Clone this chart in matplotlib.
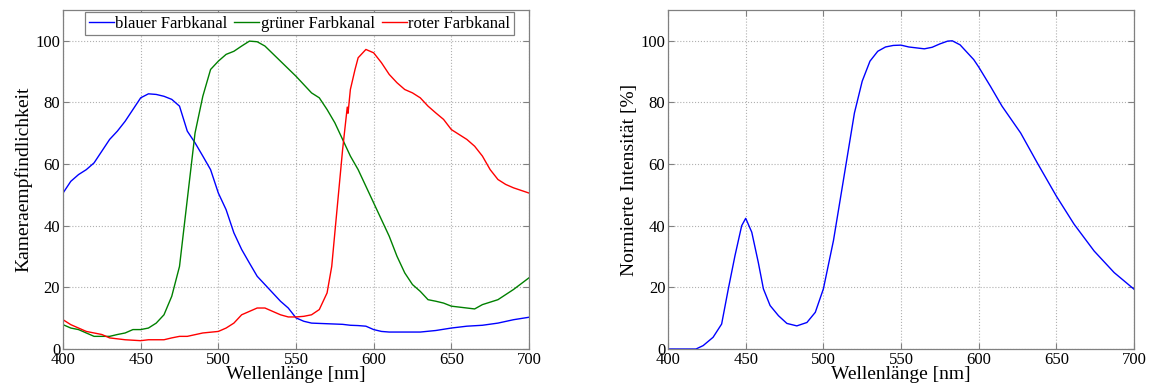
import matplotlib
matplotlib.use("Agg")
import matplotlib.pyplot as plt

plt.rcParams['font.family'] = ['Liberation Serif', 'DejaVu Serif']

# Kameraempfindlichkeit (links)
wl_blau = [400, 405, 410, 415, 420, 425, 430, 435, 440, 445, 450, 455, 460, 465, 470, 475,
           480, 485, 490, 495, 500, 505, 510, 515, 520, 525, 530, 535, 540, 545, 550, 555,
           560, 570, 580, 585, 590, 595, 600, 605, 610, 620, 630, 640, 650, 660, 670, 680, 690, 700]
blau = [50.6, 54.4, 56.6, 58.2, 60.4, 64.2, 68.0, 70.7, 73.9, 77.7, 81.5, 82.8, 82.6, 82.0, 81.0, 78.8,
        70.7, 66.9, 62.6, 58.2, 50.6, 45.2, 37.7, 32.3, 27.9, 23.6, 20.9, 18.2, 15.5, 13.3, 10.1, 9.0,
        8.4, 8.2, 8.0, 7.7, 7.6, 7.4, 6.3, 5.7, 5.5, 5.5, 5.5, 6.0, 6.8, 7.4, 7.7, 8.4, 9.5, 10.3]

wl_gruen = [400, 405, 410, 415, 420, 430, 435, 440, 445, 450, 455, 460, 465, 470, 475, 480,
            485, 490, 495, 500, 505, 510, 515, 520, 525, 530, 540, 550, 560, 565, 570, 575,
            580, 585, 590, 595, 600, 605, 610, 615, 620, 625, 630, 635, 640, 645, 650, 660,
            665, 670, 680, 690, 700]
gruen = [7.9, 6.8, 6.3, 5.2, 4.1, 4.1, 4.7, 5.2, 6.3, 6.3, 6.8, 8.4, 11.1, 17.1, 26.8, 48.5,
         70.1, 82.0, 90.7, 93.4, 95.6, 96.6, 98.3, 99.9, 99.7, 98.3, 93.4, 88.5, 83.1, 81.5, 77.7, 73.4,
         68.0, 62.6, 58.2, 52.8, 47.4, 42.0, 36.6, 30.1, 24.7, 20.9, 18.7, 16.0, 15.5, 14.9, 13.9, 13.3,
         13.0, 14.4, 16.0, 19.3, 23.1]

wl_rot = [400, 405, 410, 415, 420, 425, 430, 440, 450, 455, 465, 470, 475, 480, 490, 500,
          505, 510, 515, 520, 525, 530, 535, 540, 545, 550, 555, 560, 565, 570, 573, 575,
          578, 580, 583, 583.5, 585, 588, 590, 595, 600, 605, 610, 615, 620, 625, 630, 635,
          640, 645, 650, 660, 665, 670, 675, 680, 685, 690, 700]
rot = [9.5, 7.9, 6.8, 5.7, 5.2, 4.7, 3.6, 3.0, 2.7, 3.0, 3.0, 3.6, 4.1, 4.1, 5.2, 5.7,
       6.8, 8.4, 11.1, 12.2, 13.3, 13.3, 12.2, 11.1, 10.4, 10.4, 10.6, 11.1, 12.8, 18.2, 26.8, 37.7,
       53.9, 64.7, 78.5, 76.5, 84.2, 90.7, 94.5, 97.2, 96.1, 92.9, 89.1, 86.4, 84.2, 83.1, 81.5, 78.8,
       76.6, 74.5, 71.2, 68.0, 65.8, 62.6, 58.2, 55.0, 53.4, 52.3, 50.6]

# Normierte Intensitaet (rechts)
wl_spek = [400, 418, 422.6, 429, 434.5, 438.8, 443.1, 447.4, 450, 453.9, 458.1, 461.4, 465.7,
           471.1, 476.5, 482.9, 489.4, 494.8, 500, 506.5, 512.9, 520, 525, 530, 535, 540, 545,
           550, 555, 560, 565, 570, 575, 580, 583, 588, 596.8, 600, 607.6, 615, 627, 637.7,
           650, 661.4, 674.3, 687.2, 700]
spek = [0.0, 0.0, 1.1, 3.8, 8.1, 19.5, 30.3, 40.0, 42.4, 37.9, 28.1, 19.5, 14.1,
        10.8, 8.3, 7.5, 8.6, 11.9, 19.5, 35.2, 54.8, 76.6, 86.9, 93.4, 96.6, 98.0, 98.5,
        98.6, 98.0, 97.7, 97.4, 97.9, 99.0, 99.9, 100.0, 98.7, 93.9, 91.5, 85.2, 78.8, 70.1, 60.4,
        49.6, 40.5, 31.8, 24.8, 19.4]

xticks = [400, 450, 500, 550, 600, 650, 700]
yticks = [0, 20, 40, 60, 80, 100]


def style_axes(ax):
    ax.set_xlim(400, 700)
    ax.set_ylim(0, 110)
    ax.set_xticks(xticks)
    ax.set_yticks(yticks)
    ax.grid(True, linestyle=':', color='#b0b0b0', linewidth=0.8)
    ax.tick_params(direction='in', top=True, right=True, length=4, labelsize=12,
                   color='#808080', pad=2)
    for s in ax.spines.values():
        s.set_color('#808080')
        s.set_linewidth(0.9)
    ax.set_xlabel('Wellenlänge [nm]', fontsize=14, labelpad=-1)


fig = plt.figure(figsize=(11.52, 3.92), dpi=100)
ax1 = fig.add_axes([0.0547, 0.1097, 0.4045, 0.8648])
ax2 = fig.add_axes([0.5799, 0.1097, 0.4045, 0.8648])

ax1.plot(wl_blau, blau, color='#0000ff', lw=1.0, label='blauer Farbkanal')
ax1.plot(wl_gruen, gruen, color='#008000', lw=1.0, label='grüner Farbkanal')
ax1.plot(wl_rot, rot, color='#ff0000', lw=1.0, label='roter Farbkanal')
style_axes(ax1)
ax1.set_ylabel('Kameraempfindlichkeit', fontsize=14, labelpad=2)
leg = ax1.legend(loc='upper right', bbox_to_anchor=(0.967, 0.993), ncol=3, fontsize=12,
                 handlelength=1.5, handletextpad=0.1, columnspacing=0.4, borderpad=0.2,
                 borderaxespad=0, fancybox=False, framealpha=1)
leg.get_frame().set_edgecolor('#808080')
leg.get_frame().set_linewidth(0.9)

ax2.plot(wl_spek, spek, color='#0000ff', lw=1.0)
style_axes(ax2)
ax2.set_ylabel('Normierte Intensität [%]', fontsize=14, labelpad=2)

fig.savefig('out.png', dpi=100)
